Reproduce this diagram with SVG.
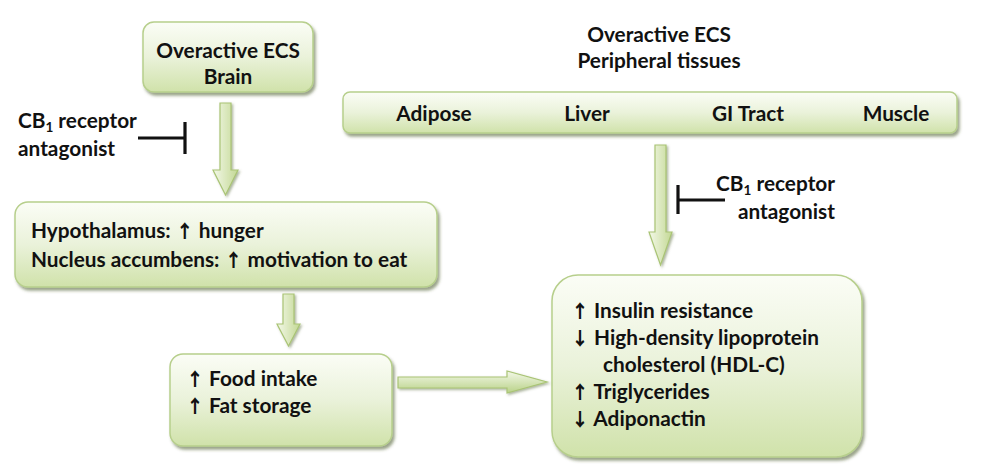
<svg xmlns="http://www.w3.org/2000/svg" width="1000" height="476" viewBox="0 0 1000 476">
<defs>
<linearGradient id="boxg" x1="0" y1="0" x2="0" y2="1">
<stop offset="0" stop-color="#fbfdf6"/>
<stop offset="0.5" stop-color="#eaf2da"/>
<stop offset="1" stop-color="#d0e2aa"/>
</linearGradient>
<linearGradient id="arrv" x1="0" y1="0" x2="1" y2="0">
<stop offset="0" stop-color="#f3f8e8"/>
<stop offset="1" stop-color="#c3d894"/>
</linearGradient>
<linearGradient id="arrh" x1="0" y1="0" x2="0" y2="1">
<stop offset="0" stop-color="#f3f8e8"/>
<stop offset="1" stop-color="#b9d288"/>
</linearGradient>
<filter id="sh" x="-10%" y="-10%" width="125%" height="130%">
<feDropShadow dx="2" dy="3" stdDeviation="1.5" flood-color="#4a5a2a" flood-opacity="0.55"/>
</filter>
<filter id="sha" x="-20%" y="-10%" width="150%" height="130%">
<feDropShadow dx="1.5" dy="1.5" stdDeviation="1" flood-color="#5a6a3a" flood-opacity="0.5"/>
</filter>
</defs>
<style>
.box{fill:url(#boxg);stroke:#b7cf8c;stroke-width:1.5;filter:url(#sh)}
.av{fill:url(#arrv);stroke:#a9c474;stroke-width:1.2;filter:url(#sha)}
.ah{fill:url(#arrh);stroke:#a9c474;stroke-width:1.2;filter:url(#sha)}
.t{font-family:"Lato","Open Sans","DejaVu Sans",sans-serif;font-weight:bold;font-size:20.8px;fill:#111}
.ar{font-family:"Noto Sans CJK SC","DejaVu Sans",sans-serif;font-weight:900;font-size:18px}
.c{text-anchor:middle}
.e{text-anchor:end}
.inh{stroke:#111;stroke-width:3.2;fill:none}
</style>
<rect width="1000" height="476" fill="#ffffff"/>

<g id="brain">
<rect class="box" x="143" y="22" width="170" height="70" rx="11"/>
<text class="t c" x="228" y="58">Overactive ECS</text>
<text class="t c" x="228" y="84">Brain</text>
</g>

<g id="peripheral">
<text class="t c" x="659" y="42">Overactive ECS</text>
<text class="t c" x="659" y="68">Peripheral tissues</text>
</g>

<g id="tissues">
<rect class="box" x="343" y="92" width="614" height="41" rx="7"/>
<text class="t c" x="434" y="121">Adipose</text>
<text class="t c" x="587" y="121">Liver</text>
<text class="t c" x="748" y="121">GI Tract</text>
<text class="t c" x="896" y="121">Muscle</text>
</g>

<g id="hypothalamus">
<rect class="box" x="15" y="202" width="422" height="85" rx="13"/>
<text class="t" x="31" y="238">Hypothalamus: <tspan class="ar">↑</tspan> hunger</text>
<text class="t" x="31" y="267">Nucleus accumbens: <tspan class="ar">↑</tspan> motivation to eat</text>
</g>

<g id="food">
<rect class="box" x="170" y="354" width="222" height="92" rx="13"/>
<text class="t" x="186" y="386"><tspan class="ar">↑</tspan> Food intake</text>
<text class="t" x="186" y="413"><tspan class="ar">↑</tspan> Fat storage</text>
</g>

<g id="metabolic">
<rect class="box" x="552" y="275" width="310" height="182" rx="26"/>
<text class="t" x="571" y="318"><tspan class="ar">↑</tspan> Insulin resistance</text>
<text class="t" x="571" y="345"><tspan class="ar">↓</tspan> High-density lipoprotein</text>
<text class="t" x="603" y="372">cholesterol (HDL-C)</text>
<text class="t" x="571" y="399"><tspan class="ar">↑</tspan> Triglycerides</text>
<text class="t" x="571" y="426"><tspan class="ar">↓</tspan> Adiponactin</text>
</g>

<g id="antagonist-left">
<text class="t" x="18" y="128">CB<tspan font-size="13.5" dy="4">1</tspan><tspan dy="-4"> receptor</tspan></text>
<text class="t" x="18" y="156">antagonist</text>
</g>

<g id="antagonist-right">
<text class="t e" x="835" y="191">CB<tspan font-size="13.5" dy="4">1</tspan><tspan dy="-4"> receptor</tspan></text>
<text class="t e" x="835" y="219">antagonist</text>
</g>

<g id="connectors">
<path class="av" d="M220,103 H231 V170 H238 L225.5,195 L213,170 H220 Z"/>
<path class="av" d="M283,294 H294 V324 H300 L288.5,346 L277,324 H283 Z"/>
<path class="av" d="M655,145 H666 V232 H672 L660.5,265 L649,232 H655 Z"/>
<path class="ah" d="M398,377 H507 V371 L547,382 L507,393 V388 H398 Z"/>
<path class="inh" d="M138,138 H185 M185,122 V154"/>
<path class="inh" d="M725,200 H678 M678,185 V214"/>
</g>
</svg>
